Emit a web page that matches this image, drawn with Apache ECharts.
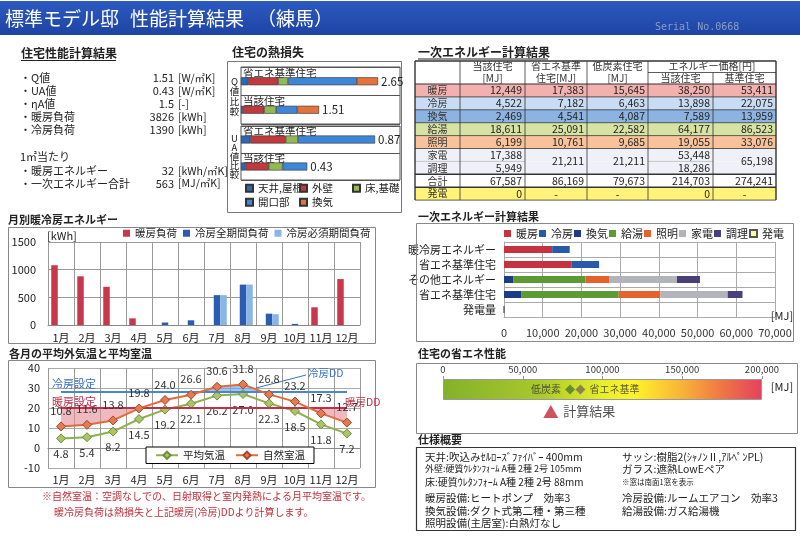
<!DOCTYPE html>
<html><head><meta charset="utf-8">
<script src="https://cdn.jsdelivr.net/npm/echarts@6/dist/echarts.min.js"></script>
<style>html,body{margin:0;padding:0;background:#fff}#c{width:800px;height:543px}</style>
</head><body><div id="c"></div>
<script>
const FONT = '"Noto Sans CJK JP","Noto Sans",sans-serif';

// ---------------- data ----------------
const titleParts = ['標準モデル邸','性能計算結果','（練馬）'];
const serialText = 'Serial No.0668';

const perfItems = ['・Q値','・UA値','・ηA値','・暖房負荷','・冷房負荷'];
const perfValues = ['1.51','0.43','1.5','3826','1390'];
const perfUnits = ['[W/㎡K]','[W/㎡K]','[-]','[kWh]','[kWh]'];
const perM2Title = '1㎡当たり';
const perM2Items = ['・暖房エネルギー','・一次エネルギー合計'];
const perM2Values = ['32','563'];
const perM2Units = ['[kWh/㎡K]','[MJ/㎡K]'];

const lossParts = ['天井,屋根','外壁','床,基礎','開口部','換気'];
const lossRows = ['省エネ基準住宅','当該住宅'];
const qStandard = [0.14,0.58,0.19,1.33,0.41];
const qTarget = [0.04,0.41,0.23,0.41,0.42];
const uaStandard = [0.06,0.23,0.08,0.50];
const uaTarget = [0.03,0.15,0.09,0.16];
const qTotals = ['2.65','1.51'];
const uaTotals = ['0.87','0.43'];

const tableRowNames = ['暖房','冷房','換気','給湯','照明','家電','調理','合計','発電'];
const targetMJ = [12449,4522,2469,18611,6199,17388,5949,67587,0];
const standardMJ = [17383,7182,4541,25091,10761,21211,null,86169,'-'];
const lowCarbonMJ = [15645,6463,4087,22582,9685,21211,null,79673,'-'];
const costTarget = [38250,13898,7589,64177,19055,53448,18286,214703,0];
const costStandard = [53411,22075,13959,86523,33076,65198,null,274241,'-'];

const months = ['1月','2月','3月','4月','5月','6月','7月','8月','9月','10月','11月','12月'];
const heatLoad = [1080,880,690,120,0,0,0,0,0,0,320,830];
const coolFull = [0,0,0,0,45,85,540,730,205,20,0,0];
const coolRequired = [0,0,0,0,0,0,540,730,195,0,0,0];

const avgTemp = [4.8,5.4,8.2,14.5,19.2,22.1,26.2,27.0,22.3,18.5,11.8,7.2];
const natTemp = [10.8,11.6,13.8,19.8,24.0,26.6,30.6,31.8,26.8,23.2,17.3,12.7];
const heatSet = 20;
const coolSet = 28;

const energyParts = ['暖房','冷房','換気','給湯','照明','家電','調理','発電'];
const energyRows = ['暖冷房エネルギー','省エネ基準住宅','その他エネルギー','省エネ基準住宅','発電量'];
const standardChart = [17383,7182,4541,25091,10761,17388,3823];
const generation = [0];

const perfScaleMax = 200000;
const perfMarkers = ['低炭素','省エネ基準'];
const perfResultLabel = '計算結果';

const specLeft = ['天井:吹込みｾﾙﾛｰｽﾞﾌｧｲﾊﾞｰ 400mm','外壁:硬質ｳﾚﾀﾝﾌｫｰﾑ A種 2種 2号 105mm','床:硬質ｳﾚﾀﾝﾌｫｰﾑ A種 2種 2号 88mm','暖房設備:ヒートポンプ　効率3','換気設備:ダクト式第二種・第三種','照明設備(主居室):白熱灯なし'];
const specRight = ['サッシ:樹脂2(ｼｬﾉﾝⅡ,ｱﾙﾍﾟﾝPL)','ガラス:遮熱LowEペア','※窓は南面1窓を表示','冷房設備:ルームエアコン　効率3','給湯設備:ガス給湯機'];
const notes = ['※自然室温：空調なしでの、日射取得と室内発熱による月平均室温です。','暖冷房負荷は熱損失と上記暖房(冷房)DDより計算します。'];

// ---------------- styles ----------------
const lossColors = ['#2f67b8','#c0393f','#93b955','#3f87d6','#e2733c'];
const energyColors = ['#c6323f','#2a58ad','#1e3b8a','#5c9a32','#e5622d','#b3b3bb','#4b3f7a','#ffff99'];
const rowColors = ['#f2b0ae','#c8ddf3','#8db3e2','#d7e3a2','#f8c39a','#f0f0f8','#f0f0f8','#ffffff','#fff37a'];

const fmt = v => typeof v === 'number' ? v.toLocaleString('en-US') : v;

// ---------------- graphic helpers ----------------
const g = [];
const T = (x,y,text,o={}) => g.push({type:'text', z:o.z||10, silent:true, style:{text, x, y, fill:o.color||'#222', fontSize:o.size||11, fontFamily:o.family||FONT, fontWeight:o.weight||'normal', align:o.align||'left', verticalAlign:o.va||'middle', lineHeight:o.lh}});
const R = (x,y,w,h,o={}) => g.push({type:'rect', z:o.z||1, silent:true, shape:{x,y,width:w,height:h}, style:{fill:o.fill||'none', stroke:o.stroke||null, lineWidth:o.lw||1}});
const L = (x1,y1,x2,y2,o={}) => g.push({type:'line', z:o.z||5, silent:true, shape:{x1,y1,x2,y2}, style:{stroke:o.color||'#555', lineWidth:o.lw||1}});

// title bar
g.push({type:'rect', z:0, silent:true, shape:{x:0,y:1,width:800,height:34}, style:{fill:new echarts.graphic.LinearGradient(0,0,0,1,[{offset:0,color:'#2c5abf'},{offset:1,color:'#1e44a4'}])}});
T(5,19,titleParts[0],{size:19,color:'#fff'});
T(130,19,titleParts[1],{size:19,color:'#fff'});
T(257,19,titleParts[2],{size:19,color:'#fff'});
T(655,27,serialText,{size:10,color:'#8a9bc6',family:'"DejaVu Sans Mono",monospace'});

// left performance block
T(21,53,'住宅性能計算結果',{size:12,weight:'bold'});
L(21,60.5,116,60.5,{color:'#222'});
perfItems.forEach((t,i)=>{const y=78+i*13; T(20,y,t); T(174,y,perfValues[i],{align:'right'}); T(178,y,perfUnits[i],{size:10.5});});
T(20,157,perM2Title);
perM2Items.forEach((t,i)=>{const y=171+i*12.5; T(20,y,t); T(174,y,perM2Values[i],{align:'right'}); T(178,y,perM2Units[i],{size:10.5});});

// heat loss block
T(232,52,'住宅の熱損失',{size:12,weight:'bold'});
R(227.5,61.5,174,151,{stroke:'#777'});
T(234.5,96,'Q\n値\n比\n較',{size:9.5,align:'center',lh:10});
T(234.5,156,'U\nA\n値\n比\n較',{size:9.5,align:'center',lh:9});

// table
T(418,52,'一次エネルギー計算結果',{size:12,weight:'bold'});
L(418,59,548,59,{color:'#222'});
const colX = [415,460,525,587,648,713,776];
const tTop = 61, tHead = 23, tRow = 12.9;
const tCols = [targetMJ, standardMJ, lowCarbonMJ, costTarget, costStandard];
const tBottom = tTop + tHead + tableRowNames.length*tRow;
R(colX[0],tTop,colX[6]-colX[0],tHead,{fill:'#fff',z:0});
tableRowNames.forEach((name,r)=>{
  const y = tTop + tHead + r*tRow;
  R(colX[0],y,colX[6]-colX[0],tRow,{fill:rowColors[r],z:0});
  T((colX[0]+colX[1])/2,y+tRow/2,name,{size:10,align:'center',color:'#333'});
  tCols.forEach((col,c)=>{
    const v = col[r];
    if (v === null) return;
    const merged = r+1 < col.length && col[r+1] === null;
    const cy = merged ? y + tRow : y + tRow/2;
    if (typeof v === 'number') T(colX[c+2]-3,cy,fmt(v),{size:10.5,align:'right',color:'#222'});
    else T((colX[c+1]+colX[c+2])/2,cy,v,{size:10.5,align:'center',color:'#222'});
  });
});
const hdr1 = ['当該住宅','省エネ基準','低炭素住宅'];
const hdr2 = ['[MJ]','住宅[MJ]','[MJ]'];
hdr1.forEach((h,i)=>{const cx=(colX[i+1]+colX[i+2])/2; T(cx,66.5,h,{size:10,align:'center',color:'#333'}); T(cx,78,hdr2[i],{size:10,align:'center',color:'#333'});});
T((colX[4]+colX[6])/2,66.5,'エネルギー価格[円]',{size:10,align:'center',color:'#333'});
T((colX[4]+colX[5])/2,78,'当該住宅',{size:10,align:'center',color:'#333'});
T((colX[5]+colX[6])/2,78,'基準住宅',{size:10,align:'center',color:'#333'});
for (let r=0;r<=tableRowNames.length;r++){
  const y = tTop + tHead + r*tRow;
  const lw = (r===7||r===8) ? 1.6 : (r===0 ? 1.2 : 0.8);
  if (r===6){ L(colX[0],y,colX[2],y,{lw:0.5,color:'#999'}); L(colX[4],y,colX[5],y,{lw:0.5,color:'#999'}); }
  else L(colX[0],y,colX[6],y,{lw,color:'#333'});
}
L(colX[0],tTop,colX[6],tTop,{lw:1.4,color:'#333'});
L(colX[4],tTop+11.5,colX[6],tTop+11.5,{lw:0.8,color:'#333'});
colX.forEach((x,k)=>{ L(x,k===5?tTop+11.5:tTop,x,tBottom,{lw:(k===0||k===6)?1.4:0.8,color:'#333'}); });

// monthly chart
T(8,220,'月別暖冷房エネルギー',{size:11,weight:'bold'});
R(8.5,227.5,367,116,{stroke:'#888'});
T(47,236,'[kWh]',{size:11});

// temperature chart
T(9,354,'各月の平均外気温と平均室温',{size:11,weight:'bold'});
R(8.5,360.5,367,127,{stroke:'#888'});
T(52,384,'冷房設定',{size:11,color:'#3a70c0'});
T(52,402,'暖房設定',{size:11,color:'#c0304a'});
L(256,388,306,375,{color:'#3a70c0'});
T(308,373,'冷房DD',{size:10.5,color:'#3a70c0'});
T(345,402,'暖房DD',{size:10.5,color:'#c0304a'});
T(42,496,notes[0],{size:10,color:'#c0303a'});
T(54,512,notes[1],{size:10,color:'#c0303a'});

// energy chart
T(418,217,'一次エネルギー計算結果',{size:11,weight:'bold'});
R(416.5,223.5,377,118,{stroke:'#888'});
T(782,316,'[MJ]',{size:11,align:'center'});

// perf
T(418,354,'住宅の省エネ性能',{size:11,weight:'bold'});
R(416.5,363.5,381,70,{stroke:'#888'});
T(782,387,'[MJ]',{size:11,align:'center'});

// spec
T(418,440,'仕様概要',{size:11,weight:'bold'});
R(416.5,447.5,379,83,{stroke:'#333',lw:1.2});
const specY = [457,469,482,498,511,523];
const specSize = [10.5,9,10,10.5,10.5,10.5];
specLeft.forEach((s,i)=>T(425,specY[i],s,{size:specSize[i]}));
const specRSize = [10.5,10.5,7.5,10.5,10.5];
specRight.forEach((s,i)=>T(622,specY[i],s,{size:specRSize[i]}));

// ---------------- DD areas ----------------
function ddRender(params, api){
  if (params.dataIndex !== 0) return;
  const pts = natTemp.map((v,i)=>api.coord([i, v]));
  const mk = (setVal, below, color) => {
    const sy = api.coord([0, setVal])[1];
    const inside = p => below ? p[1] > sy : p[1] < sy;
    const cross = (q,p) => { const t=(sy-q[1])/(p[1]-q[1]); return [q[0]+t*(p[0]-q[0]), sy]; };
    const polys = []; let cur = null;
    for (let i=0;i<pts.length;i++){
      const p = pts[i];
      if (inside(p)) {
        if (!cur) cur = i===0 ? [[p[0],sy]] : [cross(pts[i-1],p)];
        cur.push(p);
      } else if (cur) {
        cur.push(cross(pts[i-1],p)); polys.push(cur); cur = null;
      }
    }
    if (cur) { cur.push([pts[pts.length-1][0], sy]); polys.push(cur); }
    return polys.map(pp=>({type:'polygon', shape:{points:pp}, style:{fill:color}}));
  };
  return {type:'group', children:[...mk(heatSet,true,'rgba(226,140,150,0.6)'), ...mk(coolSet,false,'rgba(110,165,230,0.65)')]};
}

// ---------------- series ----------------
const series = [];
const totalLabel = arr => ({show:true, position:'right', distance:3, fontSize:11.5, color:'#222', fontFamily:FONT, formatter:p=>arr[p.dataIndex]});
lossParts.forEach((n,k)=>{
  series.push({type:'bar', name:'L:'+n, xAxisIndex:0, yAxisIndex:0, stack:'q', barWidth:8,
    data:[qStandard[k], qTarget[k]], itemStyle:{color:lossColors[k], borderColor:'#333', borderWidth:0.6},
    label: k===lossParts.length-1 ? totalLabel(qTotals) : {show:false}});
});
uaStandard.forEach((_,k)=>{
  series.push({type:'bar', name:'L:'+lossParts[k], xAxisIndex:1, yAxisIndex:1, stack:'ua', barWidth:8,
    data:[uaStandard[k], uaTarget[k]], itemStyle:{color:lossColors[k], borderColor:'#333', borderWidth:0.6},
    label: k===uaStandard.length-1 ? totalLabel(uaTotals) : {show:false}});
});
series.push({type:'bar', name:'暖房負荷', xAxisIndex:2, yAxisIndex:2, data:heatLoad, barWidth:6.5, barGap:'0%', itemStyle:{color:'#c8374a'}});
series.push({type:'bar', name:'冷房全期間負荷', xAxisIndex:2, yAxisIndex:2, data:coolFull, barWidth:6.5, barGap:'0%', itemStyle:{color:'#2c5cb2'}});
series.push({type:'bar', name:'冷房必須期間負荷', xAxisIndex:2, yAxisIndex:2, data:coolRequired, barWidth:6.5, barGap:'0%', itemStyle:{color:'#8ab6e6'}});

series.push({type:'custom', xAxisIndex:3, yAxisIndex:3, data:[[0,0]], renderItem:ddRender, z:1, silent:true});
const tLabel = pos => ({show:true, position:pos, distance:5, fontSize:11, color:'#333', fontFamily:FONT, formatter:p=>Number(p.value).toFixed(1)});
series.push({type:'line', name:'平均気温', xAxisIndex:3, yAxisIndex:3, data:avgTemp, z:4,
  symbol:'diamond', symbolSize:9, lineStyle:{color:'#8db04a', width:2},
  itemStyle:{color:'#a9c46a', borderColor:'#6f8f35', borderWidth:1}, label:tLabel('bottom'),
  markLine:{silent:true, symbol:'none', label:{show:false}, data:[
    [{coord:[months[0],heatSet], lineStyle:{color:'#c0304a', width:2, type:'solid'}}, {coord:[months[11],heatSet]}],
    [{coord:[months[0],coolSet], lineStyle:{color:'#4a86c8', width:2, type:'solid'}}, {coord:[months[11],coolSet]}]
  ]}});
series.push({type:'line', name:'自然室温', xAxisIndex:3, yAxisIndex:3, data:natTemp, z:5,
  symbol:'diamond', symbolSize:9, lineStyle:{color:'#e46a38', width:2},
  itemStyle:{color:'#e27a52', borderColor:'#a8452a', borderWidth:1}, label:tLabel('top')});

energyParts.forEach((n,k)=>{
  let data;
  if (k < 7) data = [k<2?targetMJ[k]:'-', k<2?standardChart[k]:'-', k>=2?targetMJ[k]:'-', k>=2?standardChart[k]:'-', '-'];
  else data = ['-','-','-','-',generation[0]];
  series.push({type:'bar', name:n, xAxisIndex:4, yAxisIndex:4, stack:'e', barWidth:7, data,
    itemStyle:{color:energyColors[k], borderColor: k===7?'#555':null, borderWidth: k===7?0.8:0}});
});

series.push({type:'bar', xAxisIndex:5, yAxisIndex:5, data:[perfScaleMax], barWidth:21, silent:true, z:2,
  itemStyle:{borderColor:'#999', borderWidth:1, color:new echarts.graphic.LinearGradient(0,0,1,0,[
    {offset:0,color:'#84b02a'},{offset:0.3,color:'#a8c82c'},{offset:0.5,color:'#e8ee2a'},{offset:0.6,color:'#fff22a'},
    {offset:0.75,color:'#f7b338'},{offset:0.88,color:'#ef7444'},{offset:1,color:'#e6405e'}])}});
series.push({type:'scatter', xAxisIndex:5, yAxisIndex:5, symbol:'diamond', symbolSize:10, z:5, silent:true,
  label:{show:true, fontSize:10, color:'#333', fontFamily:FONT, distance:4},
  data:[
    {value:[lowCarbonMJ[7],0], itemStyle:{color:'#4c7a2c'}, label:{position:'left', formatter:perfMarkers[0]}},
    {value:[standardMJ[7],0], itemStyle:{color:'#7a6a58'}, label:{position:'right', formatter:perfMarkers[1]}}
  ]});
series.push({type:'scatter', xAxisIndex:5, yAxisIndex:5, symbol:'triangle', symbolSize:[15,13], symbolOffset:[0,22], z:5, silent:true,
  itemStyle:{color:'#c0283a'}, label:{show:true, position:'right', distance:5, fontSize:13, color:'#222', fontFamily:FONT, formatter:perfResultLabel},
  data:[[targetMJ[7],0]]});

// ---------------- axes ----------------
const catLossAxis = gi => ({gridIndex:gi, type:'category', inverse:true, data:lossRows,
  axisLine:{show:false}, axisTick:{show:false}, splitLine:{show:true, lineStyle:{color:'#555'}},
  axisLabel:{inside:true, margin:2, verticalAlign:'bottom', padding:[0,0,3,0], fontSize:10.5, color:'#222', fontFamily:FONT}});
const monthAxis = (gi, m) => ({gridIndex:gi, type:'category', data:months, axisTick:{show:false},
  axisLine:{show:true, lineStyle:{color:'#888'}}, axisLabel:{interval:0, fontSize:11, color:'#222', margin:m, fontFamily:FONT},
  splitLine:{show:true, interval:0, lineStyle:{color:'#999'}}});
const commaFmt = v => Number(v).toLocaleString('en-US');

const legendBase = {selectedMode:false, padding:0, icon:'rect', itemWidth:7, itemHeight:7, textStyle:{fontSize:10.5, color:'#222', fontFamily:FONT}};
const lossLegendPos = [[245,183],[299,183],[352,183],[245,197],[299,197]];
const legends = lossParts.map((n,k)=>Object.assign({}, legendBase, {data:['L:'+n], left:lossLegendPos[k][0], top:lossLegendPos[k][1], formatter:s=>s.slice(2)}));
legends.push(Object.assign({}, legendBase, {data:['暖房負荷','冷房全期間負荷','冷房必須期間負荷'], left:123, top:228, itemGap:6}));
legends.push(Object.assign({}, legendBase, {data:energyParts, left:504, top:228, itemGap:1, textStyle:{fontSize:11, color:'#222', fontFamily:FONT}}));
legends.push({selectedMode:false, data:['平均気温','自然室温'], left:146, top:447, backgroundColor:'#fff', borderColor:'#000', borderWidth:1,
  padding:[3,9], itemWidth:22, itemHeight:9, itemGap:10, textStyle:{fontSize:10.5, color:'#222', fontFamily:FONT}});

const option = {
  animation:false,
  backgroundColor:'#fff',
  textStyle:{fontFamily:FONT},
  graphic:{elements:g},
  legend:legends,
  grid:[
    {left:241, top:67, width:159, height:57, show:true, borderColor:'#555', borderWidth:1},
    {left:241, top:126, width:159, height:54, show:true, borderColor:'#555', borderWidth:1},
    {left:48, top:242, width:312, height:83},
    {left:48, top:368, width:312, height:100},
    {left:504, top:242, width:271, height:75},
    {left:443, top:379, width:319, height:21}
  ],
  xAxis:[
    {gridIndex:0, type:'value', min:0, max:3.075, show:false},
    {gridIndex:1, type:'value', min:0, max:1.032, show:false},
    monthAxis(2,7),
    monthAxis(3,6),
    {gridIndex:4, type:'value', min:0, max:70000, interval:10000, axisTick:{show:false},
      axisLine:{show:true, lineStyle:{color:'#aaa'}}, splitLine:{show:true, lineStyle:{color:'#aaa'}},
      axisLabel:{formatter:commaFmt, fontSize:11, color:'#333', margin:10, fontFamily:FONT}},
    {gridIndex:5, type:'value', position:'top', min:0, max:perfScaleMax, interval:50000,
      axisLine:{show:false}, axisTick:{show:true, length:3, lineStyle:{color:'#999'}}, splitLine:{show:false},
      axisLabel:{formatter:commaFmt, fontSize:9.5, color:'#333', margin:5, fontFamily:FONT}}
  ],
  yAxis:[
    catLossAxis(0),
    catLossAxis(1),
    {gridIndex:2, type:'value', min:0, max:1500, interval:500, axisLine:{show:false}, axisTick:{show:false},
      axisLabel:{formatter:v=>String(v), fontSize:11, color:'#222', margin:12, fontFamily:FONT}, splitLine:{lineStyle:{color:'#999'}}},
    {gridIndex:3, type:'value', min:-10, max:40, interval:10, axisLine:{show:false}, axisTick:{show:false},
      axisLabel:{fontSize:11, color:'#222', margin:8, fontFamily:FONT}, splitLine:{lineStyle:{color:'#aaa'}}},
    {gridIndex:4, type:'category', inverse:true, data:energyRows.map((_,i)=>'r'+i), axisTick:{show:false},
      axisLine:{show:true, lineStyle:{color:'#aaa'}}, splitLine:{show:true, lineStyle:{color:'#aaa'}},
      axisLabel:{formatter:(v,i)=>energyRows[i], fontSize:11, color:'#222', margin:8, fontFamily:FONT}},
    {gridIndex:5, type:'category', data:['x'], show:false}
  ],
  series
};
const chart = echarts.init(document.getElementById('c'));
chart.setOption(option);
</script></body></html>
